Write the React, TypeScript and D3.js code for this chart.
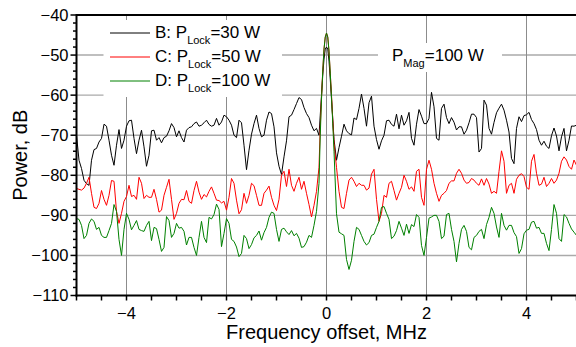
import React from "react";
import * as d3 from "d3";

// ---- data ----
const blackLeft = [
  -70, -76.25, -78.3, -81.25, -82.1, -82.5, -76.25, -73.6, -73.3, -71.7,
  -70.8, -67.25, -67.75, -71.25, -75, -77.5, -72.5, -68.6, -73.3, -71.25,
  -67.75, -66.4, -66.25, -70.8, -74.6, -71.25, -68.75, -72.9, -77.75, -75,
  -68.9, -68.75, -71.25, -70.6, -71.9, -70.6, -70.25, -68.9, -67.1, -68.1,
  -70.4, -68.9, -70.6, -71.7, -68.75, -68.1, -67.9, -67.1, -66.7, -67.75,
  -67.5, -66.9, -66.25, -67.3, -67.75, -67.5, -65.8, -67.5, -66.7, -65,
  -65.4, -66.25, -67.5, -70, -70.6, -66.25, -66.9, -72.5, -78.6, -73.75,
  -69.75, -67.1, -65, -68.3, -70.4, -70, -66.25, -64.2, -64.6, -67.9,
  -74.4, -77.75, -79.8, -75.4, -71.4, -65.4, -65, -63.6, -62.1, -60.6,
  -61.1, -63.1, -64.6, -65.6, -67.5, -68.9, -68.3,
];
const blackPeak = [-70, -65, -60, -55, -51, -48.5, -48, -48.5, -51.5, -56, -61, -66, -71];
const blackRight = [
  -76.25, -73.1, -70.25, -67.25, -68.9, -69.6, -69.9, -65.7, -66.1, -63.3,
  -59.75, -63.3, -67.75, -61.9, -60.25, -67.75, -71.1, -73.5, -71.4, -70,
  -66.4, -66.25, -67.3, -67.75, -64.75, -68.4, -65, -67.5, -66.4, -64.3,
  -70.8, -72.5, -67.25, -63.6, -65.25, -67.1, -67.1, -65.8, -59.3, -62.9,
  -70.8, -71.25, -63.3, -62.25, -65.6, -67.1, -65.6, -66.75, -68.7, -67.9,
  -67.9, -69.75, -68.75, -66.9, -64.75, -64.75, -65.6, -74.2, -73.3, -61.25,
  -62.5, -68.3, -69.75, -66.8, -64.4, -63.25, -62.25, -63.75, -66.25, -69.2,
  -75.8, -77.1, -68.3, -65.4, -66.6, -65.1, -64.9, -64.3, -66.1, -67.1,
  -68.6, -71.25, -72.5, -71.5, -72.75, -73.3, -70.1, -68.2, -70.2, -73.9,
  -70.4, -68.3, -73.9, -71.25, -67.7, -67.75, -67.5,
];

const redLeft = [
  -83.3, -83.5, -83.7, -83.2, -82, -80.5, -84.5, -88, -88.3, -87,
  -83.8, -86, -87.5, -85, -81.3, -81.5, -89, -92, -89.5, -86.5,
  -85.3, -82.5, -85.3, -85, -86, -80.5, -82, -85.8, -85, -85.5,
  -85.5, -83.5, -86, -89.2, -88.7, -85, -83, -81, -86, -91,
  -89.5, -87, -86, -86.1, -83.8, -86.5, -87, -83.8, -81.5, -84.2,
  -86, -84.8, -85.4, -84, -82.9, -84.5, -86.2, -86.3, -86.9, -86.5,
  -88.7, -85.5, -80.8, -82, -86.2, -89.6, -88.6, -84.5, -87, -85,
  -82, -82.6, -85, -87.5, -87.5, -84.5, -83.7, -82.7, -85.5, -87.5,
  -88.8, -86, -80, -79, -82.8, -78.5, -82.5, -84, -82, -80.5,
  -83.5, -81.5, -84.5, -87.3, -90.4, -87.5, -84,
];
const redPeak = [-78, -68, -60.5, -54, -48.5, -45.5, -44.5, -45.5, -49, -54.5, -60, -66, -72];
const redRight = [
  -78, -84, -88, -88.3, -84.5, -81.2, -80.5, -81.5, -82.8, -82,
  -82.5, -82.5, -83.7, -83.2, -79.7, -78.5, -86, -91.5, -89.5, -85,
  -85.5, -82, -81.5, -83.8, -86.2, -84.5, -83, -80, -81.5, -83.5,
  -82.9, -84, -79, -78.5, -85.5, -87.5, -78.5, -76.25, -78.5, -82,
  -84.5, -86.5, -85, -84.5, -83.8, -82, -81.4, -81.4, -79.5, -78.5,
  -79.5, -81.2, -82, -81.8, -80.8, -81.2, -82, -82.5, -80.9, -82.5,
  -80.8, -82.2, -84.5, -84, -84.5, -79, -73.9, -76.5, -84.5, -82.5,
  -82, -84.5, -81, -80, -79.6, -80.3, -83, -83.5, -76.5, -74.8,
  -79.5, -82.5, -82.2, -80.5, -82.8, -82, -80.8, -82, -81.2, -79.5,
  -76.5, -75.4, -76.2, -77.8, -78.5, -76.2, -77.5,
];

const greenLeft = [
  -90.8, -91, -92.5, -95.8, -95, -92, -90.9, -91.5, -93.5, -93,
  -95, -95.5, -95.5, -93.8, -92, -87.3, -89, -96, -100, -93.5,
  -89.5, -91, -93.6, -92.5, -91.3, -93.5, -93.8, -94, -92.5, -91.5,
  -96.3, -93, -93.3, -96, -99, -98, -90.3, -91.3, -95.5, -94.5,
  -92, -93.2, -93, -94, -97.4, -95.5, -95.5, -98, -100, -95.5,
  -91.5, -95.5, -96.8, -90.5, -90.9, -89.8, -87.2, -88.5, -97.8, -94.5,
  -90.8, -92, -96, -96.5, -97.9, -100.3, -99.5, -95, -95.8, -98.3,
  -97.3, -95.6, -95, -93.9, -96.2, -94.3, -93, -90.5, -89.2, -89.5,
  -93.5, -96.5, -93.5, -93.2, -94.1, -94.8, -93.8, -95.1, -94.5, -95.7,
  -98, -97.8, -96.7, -95, -95.5, -92.5, -89,
];
const greenPeak = [-82, -70, -61, -54, -48.5, -45.5, -44.5, -45.5, -49, -54.5, -60.5, -67, -74];
const greenRight = [
  -89.6, -94.2, -94.6, -95, -101, -103.5, -101.2, -96.5, -93, -93.5,
  -95, -96.5, -97.4, -96.8, -95, -94.7, -93, -91.5, -88, -87.8,
  -89.5, -91, -95.8, -95.2, -93.8, -91.5, -93.2, -95, -92.2, -94.5,
  -92.3, -92.8, -89.8, -90.5, -97.5, -100, -95.5, -90.7, -90.4, -90,
  -90, -91.5, -95.8, -95.2, -89.8, -89.5, -93.5, -96.5, -101.6, -97,
  -93.5, -92.5, -94, -98, -98.6, -95.5, -95, -94, -93.5, -95.8,
  -92.3, -90.5, -88, -89.5, -92.9, -95.5, -89.5, -92.5, -93.7, -92.5,
  -92.5, -94.3, -95.3, -99.5, -98.3, -94.6, -93.7, -93.5, -91.7, -91.5,
  -93.2, -93, -94.5, -94.5, -97, -98.8, -93.5, -87.3, -89.5, -95.8,
  -96.5, -89.8, -90.4, -92, -93.4, -94.2, -95,
];

// frequency grids (MHz)
const leftStart = -5;
const rightStart = 0.2;
const sideStep = 0.05;
const peakStart = -0.15;
const peakStep = 0.025;

const xTickLabels = [-4, -2, 0, 2, 4];
const yTickLabels = [-40, -50, -60, -70, -80, -90, -100, -110];
const xGrid = [-4, -2, 0, 2, 4];
const yGrid = [-50, -60, -70, -80, -90, -100];

const seriesColors = ["#000000", "#ff0000", "#008000"];
const legendPrefix = ["B: P", "C: P", "D: P"];
const legendSuffix = ["=30 W", "=50 W", "=100 W"];

type Pt = [number, number];
function build(left: number[], peak: number[], right: number[]): Pt[] {
  const pts: Pt[] = [];
  left.forEach((v, i) => pts.push([leftStart + i * sideStep, v]));
  peak.forEach((v, i) => pts.push([peakStart + i * peakStep, v]));
  right.forEach((v, i) => pts.push([rightStart + i * sideStep, v]));
  return pts;
}

const series: Pt[][] = [
  build(blackLeft, blackPeak, blackRight),
  build(redLeft, redPeak, redRight),
  build(greenLeft, greenPeak, greenRight),
];

const W = 576;
const H = 347;
const x = d3.scaleLinear().domain([-5, 5]).range([76.5, 576.5]);
const y = d3.scaleLinear().domain([-110, -40]).range([295.5, 15]);
const line = d3
  .line<Pt>()
  .x((d) => x(d[0]))
  .y((d) => y(d[1]));

const font = "'Liberation Sans', Arial, Helvetica, sans-serif";
const fmt = (v: number) => (v < 0 ? "\u2212" + Math.abs(v) : String(v));

export default function App() {
  const xMinor = d3.range(-5, 5.001, 0.5);
  const yMinor = d3.range(-110, -39.9, 2);
  return (
    <svg
      width={W}
      height={H}
      style={{ position: "absolute", left: 0, top: 0, background: "#fff" }}
      fontFamily={font}
    >
      <rect x={0} y={0} width={W} height={H} fill="#fff" />
      {/* grid */}
      {yGrid.map((v) => (
        <line key={"gy" + v} x1={x(-5)} x2={x(5)} y1={y(v)} y2={y(v)} stroke="#aaaaaa" strokeWidth={1.4} />
      ))}
      {xGrid.map((v) => (
        <line key={"gx" + v} x1={x(v)} x2={x(v)} y1={y(-40)} y2={y(-110)} stroke="#8c8c8c" strokeWidth={1} />
      ))}
      {/* label backgrounds */}
      <rect x={103.5} y={20} width={178.5} height={77} fill="#fff" />
      <rect x={378} y={43} width={124} height={29} fill="#fff" />

      {/* data */}
      {series.map((s, i) => (
        <path key={"s" + i} d={line(s) || ""} fill="none" stroke={seriesColors[i]} strokeWidth={1} strokeLinejoin="round" />
      ))}

      {/* axes */}
      <line x1={x(-5)} x2={W} y1={y(-40)} y2={y(-40)} stroke="#000" strokeWidth={2} />
      <line x1={x(-5) - 1} x2={W} y1={y(-110)} y2={y(-110)} stroke="#000" strokeWidth={2} />
      <line x1={x(-5)} x2={x(-5)} y1={y(-40) - 1} y2={y(-110) + 1} stroke="#000" strokeWidth={2} />
      {xMinor.map((v) => (
        <line key={"tx" + v} x1={x(v)} x2={x(v)} y1={y(-110)} y2={y(-110) + 5} stroke="#000" strokeWidth={1.5} />
      ))}
      {yMinor.map((v) => {
        const major = Math.round(v) % 10 === 0;
        return (
          <line
            key={"ty" + v}
            x1={x(-5) - (major ? 6 : 3.5)}
            x2={x(-5)}
            y1={y(v)}
            y2={y(v)}
            stroke="#000"
            strokeWidth={1.5}
          />
        );
      })}
      {xTickLabels.map((v) => (
        <text key={"lx" + v} x={x(v)} y={318.5} fontSize={16.5} textAnchor="middle" fill="#000">
          {fmt(v)}
        </text>
      ))}
      {yTickLabels.map((v) => (
        <text key={"ly" + v} x={68.5} y={y(v)} dy="0.36em" fontSize={16.5} textAnchor="end" fill="#000">
          {fmt(v)}
        </text>
      ))}
      <text x={(x(-5) + x(5)) / 2} y={339} fontSize={20} textAnchor="middle" fill="#000">
        Frequency offset, MHz
      </text>
      <text
        transform={`translate(27,${(y(-40) + y(-110)) / 2}) rotate(-90)`}
        fontSize={20}
        textAnchor="middle"
        fill="#000"
      >
        Power, dB
      </text>

      {/* legend */}
      {legendPrefix.map((p, i) => {
        const ly = 33 + i * 24;
        return (
          <g key={"lg" + i}>
            <line x1={110} x2={150} y1={ly} y2={ly} stroke={seriesColors[i]} strokeWidth={1} />
            <text x={155} y={ly + 4} dy="0.05em" fontSize={17} fill="#000">
              {p}
              <tspan fontSize={11} dy={6}>
                Lock
              </tspan>
              <tspan dy={-6}>{legendSuffix[i]}</tspan>
            </text>
          </g>
        );
      })}
      <text x={392} y={61} fontSize={17} fill="#000">
        P
        <tspan fontSize={11} dy={6}>
          Mag
        </tspan>
        <tspan dy={-6}>=100 W</tspan>
      </text>
    </svg>
  );
}
